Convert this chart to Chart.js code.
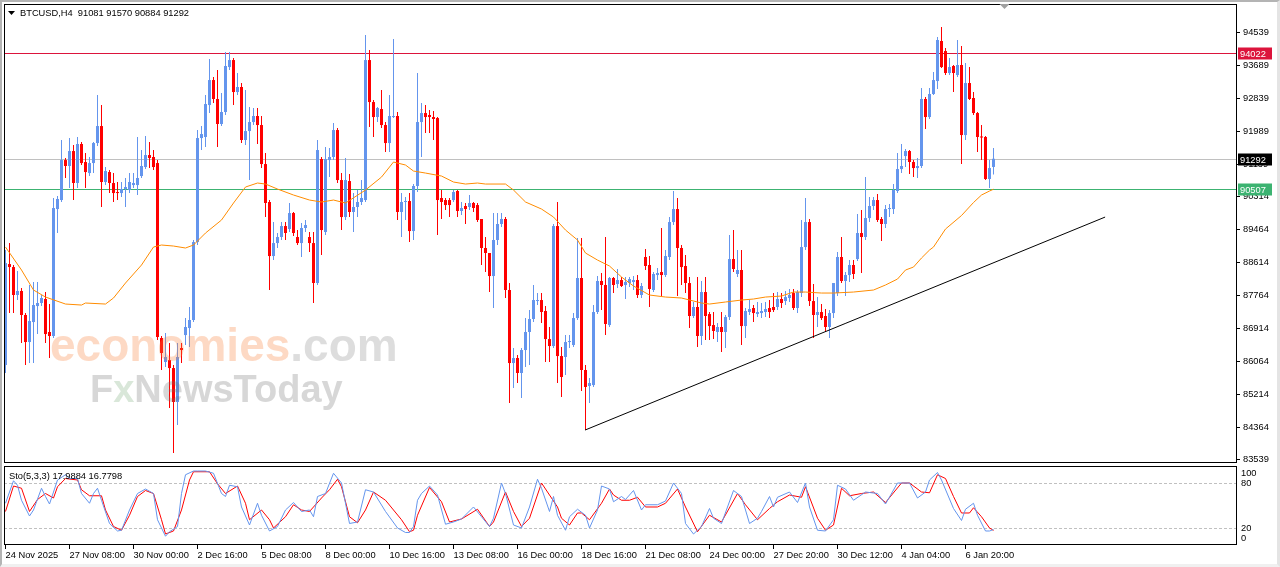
<!DOCTYPE html>
<html>
<head>
<meta charset="utf-8">
<title>BTCUSD H4</title>
<script src="https://cdn.jsdelivr.net/npm/chart.js@4.4.1/dist/chart.umd.min.js"></script>
<style>
  html, body { margin: 0; padding: 0; background: #fff; }
  #wrap { position: relative; width: 1280px; height: 567px; overflow: hidden; background: #fff; }
  #priceChart { position: absolute; left: 0; top: 0; }
  #stoChart { position: absolute; left: 0; top: 464px; }
  #frame { position: absolute; left: 0; top: 0; width: 1280px; height: 567px; box-sizing: border-box;
           border-top: 2px solid #b4b4b4; border-left: 2px solid #b4b4b4;
           border-right: 3px solid #e4e4e4; border-bottom: 3px solid #f0f0f0; pointer-events: none; }
</style>
</head>
<body>
<div id="wrap">
  <canvas id="priceChart" width="1280" height="464"></canvas>
  <canvas id="stoChart" width="1280" height="103"></canvas>
  <div id="frame"></div>
</div>
<script>
// BTCUSD H4 with moving average, trend line and Sto(5,3,3)
const symbolTitle = 'BTCUSD,H4';
const lastBar = [91081, 91570, 90884, 91292];   // O H L C of the last candle
const tickLabels = ['24 Nov 2025', '27 Nov 08:00', '30 Nov 00:00', '2 Dec 16:00', '5 Dec 08:00',
  '8 Dec 00:00', '10 Dec 16:00', '13 Dec 08:00', '16 Dec 00:00', '18 Dec 16:00', '21 Dec 08:00',
  '24 Dec 00:00', '27 Dec 20:00', '30 Dec 12:00', '4 Jan 04:00', '6 Jan 20:00'];
const barsPerLabel = 16;
const priceTicks = [94539, 93689, 92839, 91989, 91139, 90314, 89464, 88614, 87764, 86914, 86064, 85214, 84364, 83539];
const levelValues = [94022, 91292, 90507];   // resistance, last price, MA value
const stoTicks = [100, 80, 20, 0];
const stoLevels = [80, 20];
const stoTitle = 'Sto(5,3,3)';
const stoLast = [17.9884, 16.7798];

// [open, high, low, close]
const candles = [
  [85979, 88941, 85773, 88606], [88580, 89121, 87318, 88503], [88503, 88555, 87318, 87782], [87782, 88400, 87653, 87885],
  [87885, 87962, 86545, 87267], [87267, 87318, 85979, 86571], [86571, 88040, 86030, 87112], [87086, 88117, 86030, 87524],
  [87498, 88117, 86777, 87576], [87576, 87782, 87498, 87705], [87679, 87859, 86545, 86777], [86829, 87550, 86159, 86726],
  [86726, 90281, 86674, 90023], [89997, 90332, 89379, 90255], [90229, 91775, 90178, 91259], [91259, 91311, 90796, 91105],
  [91105, 91826, 90538, 91491], [91491, 91646, 90229, 90667], [90667, 91852, 90538, 91672], [91672, 91723, 91131, 91182],
  [91208, 91440, 90538, 90950], [90924, 91337, 90847, 91182], [91182, 91723, 90924, 91697], [91697, 92934, 91620, 92135],
  [92135, 92676, 90049, 90693], [90693, 91079, 90615, 90976], [90950, 91002, 90409, 90667], [90667, 90924, 90178, 90409],
  [90435, 90693, 90229, 90409], [90409, 90693, 90306, 90512], [90512, 90796, 90049, 90564], [90487, 90924, 90409, 90693],
  [90615, 90924, 90538, 90667], [90615, 91852, 90358, 90796], [90847, 91517, 90796, 91105], [91079, 91878, 91027, 91388],
  [91388, 91723, 91053, 91311], [91337, 91517, 91002, 91079], [91182, 91259, 86623, 86700], [86674, 86726, 85850, 86288],
  [86056, 86803, 85927, 86185], [86107, 86545, 84871, 85901], [85901, 85979, 83712, 85026], [85026, 86545, 84433, 86185],
  [86417, 86545, 86030, 86365], [86751, 87189, 86494, 86958], [86932, 87473, 86442, 87138], [87138, 89199, 87086, 89147],
  [89147, 92032, 89070, 91826], [91826, 92135, 91517, 91929], [91852, 92934, 91594, 92702], [92676, 93861, 92470, 93320],
  [93320, 93398, 92728, 92831], [92831, 93578, 91594, 92187], [92187, 92985, 92135, 92496], [92496, 94041, 92419, 93681],
  [93655, 94041, 93578, 93835], [93835, 93887, 92676, 93011], [93011, 93501, 92934, 93140], [93140, 93243, 91697, 91775],
  [91775, 93063, 91646, 92006], [92006, 92625, 90744, 92238], [92238, 92599, 92161, 92393], [92393, 92599, 91672, 92161],
  [92161, 92393, 91053, 91156], [91156, 91440, 89791, 90152], [90178, 90229, 87911, 88786], [88786, 89662, 88683, 89121],
  [89121, 89379, 88993, 89276], [89276, 89662, 89199, 89559], [89559, 89662, 89199, 89379], [89482, 90152, 89405, 89894],
  [89894, 89920, 89302, 89379], [89276, 89456, 89070, 89121], [89121, 89637, 88761, 89508], [89508, 89714, 89405, 89585],
  [89276, 89405, 88889, 89121], [89121, 89405, 87576, 88091], [88091, 91775, 88040, 91517], [91285, 91337, 88812, 89456],
  [89405, 91594, 89327, 91285], [91259, 91569, 90821, 91337], [91337, 92213, 91259, 92032], [92032, 92084, 90667, 90744],
  [90744, 90924, 89456, 89791], [89791, 91311, 89714, 90744], [90718, 90899, 89791, 89920], [89920, 90409, 89405, 90049],
  [90049, 90487, 89791, 90178], [90178, 90744, 90100, 90281], [90229, 94479, 90178, 93835], [93835, 94093, 92109, 92753],
  [92753, 92805, 91852, 92367], [92367, 92625, 92238, 92599], [92573, 93063, 92084, 92161], [92161, 92238, 91465, 91697],
  [91697, 92934, 91465, 92393], [92367, 94376, 92341, 92393], [92393, 92496, 89714, 89920], [89920, 90409, 89276, 90178],
  [90178, 90306, 89714, 90203], [90203, 90409, 89147, 89430], [89430, 90641, 89199, 90590], [90590, 93501, 90435, 92238],
  [92238, 92728, 91337, 92470], [92470, 92676, 91955, 92367], [92419, 92545, 91955, 92367], [92367, 92522, 91775, 92316],
  [92341, 92367, 89327, 90229], [90281, 90487, 89740, 90178], [90229, 90281, 89971, 90100], [90229, 90281, 89791, 90100],
  [90229, 90487, 90178, 90435], [90461, 90487, 89791, 89946], [89946, 90178, 89843, 90023], [90075, 90152, 89611, 89997],
  [90049, 90358, 89971, 90152], [90152, 90178, 89920, 90023], [90100, 90152, 89662, 89714], [89740, 89740, 88555, 88993],
  [88993, 89276, 88374, 88864], [88864, 88864, 87859, 88271], [88271, 89894, 87447, 89199], [89199, 89894, 89070, 89611],
  [89611, 89894, 89534, 89740], [89740, 89791, 87705, 87911], [87911, 88091, 85000, 86030], [86030, 86417, 85386, 86159],
  [86159, 86236, 85515, 85773], [85773, 86417, 85129, 86365], [86365, 87189, 85927, 86829], [86829, 87395, 85979, 87164],
  [87164, 88040, 87086, 87653], [87627, 87833, 87524, 87653], [87653, 87833, 87061, 87344], [87370, 87498, 86056, 86648],
  [86648, 86958, 86056, 86468], [86468, 89611, 86417, 89559], [89559, 90178, 85515, 86210], [86210, 86442, 85154, 85670],
  [86185, 86751, 85721, 86571], [86571, 86751, 86417, 86597], [86494, 87318, 86442, 87189], [87189, 89250, 87138, 88220],
  [88220, 89250, 85309, 85850], [85850, 85979, 84304, 85412], [85438, 85644, 85000, 85515], [85463, 87524, 85412, 87344],
  [87344, 88271, 87292, 88143], [88143, 88349, 87395, 88040], [88040, 89276, 86751, 87035], [87009, 88246, 86958, 88220],
  [88220, 88246, 87833, 88040], [88065, 88452, 87962, 88168], [88168, 88246, 87988, 88014], [88040, 88246, 87679, 88117],
  [88091, 88246, 87988, 88194], [88117, 88271, 87911, 88168], [88168, 88297, 87705, 87782], [87782, 88091, 87705, 88014],
  [88761, 88967, 88426, 88529], [88555, 88786, 87473, 87937], [87911, 88374, 87859, 88323], [88297, 88477, 88168, 88349],
  [88374, 89508, 87756, 88297], [88297, 88941, 88246, 88786], [88761, 89791, 88683, 89662], [89662, 90461, 89585, 89997],
  [89997, 90281, 87756, 88993], [88993, 89070, 88040, 88503], [88529, 88812, 87833, 88091], [88091, 88246, 86932, 87241],
  [87241, 87602, 87189, 87473], [87473, 88246, 86442, 86726], [86726, 88143, 86494, 87859], [87859, 88246, 86623, 87241],
  [87292, 87344, 86623, 86983], [87009, 87344, 86648, 86855], [86829, 87061, 86571, 86958], [86958, 87344, 86313, 86829],
  [86829, 87267, 86417, 87215], [87215, 89327, 87138, 88709], [88709, 89456, 88374, 88452], [88323, 88941, 88246, 88426],
  [88426, 88941, 86494, 86983], [86983, 87447, 86674, 87370], [87344, 87653, 87267, 87421], [87447, 87524, 87086, 87318],
  [87292, 87602, 87215, 87344], [87318, 87576, 87189, 87370], [87344, 87602, 87215, 87421], [87447, 87653, 87189, 87344],
  [87473, 87833, 87344, 87395], [87473, 87859, 87395, 87679], [87679, 87833, 87447, 87576], [87627, 87885, 87524, 87730],
  [87705, 87937, 87602, 87782], [87833, 87937, 87395, 87447], [87447, 87911, 87318, 87859], [87833, 89714, 87730, 89018],
  [89018, 90281, 88941, 89662], [89662, 89740, 87498, 87627], [87627, 88065, 86674, 87267], [87267, 87730, 86958, 87344],
  [87344, 87550, 87138, 87189], [87241, 87421, 86829, 86958], [86958, 87395, 86674, 87318], [87318, 88091, 87189, 88091],
  [87833, 88889, 87756, 88761], [88761, 89276, 88091, 88143], [88143, 88374, 87756, 88297], [88297, 88683, 88117, 88555],
  [88555, 88683, 88194, 88323], [88709, 89868, 88658, 89379], [89379, 89971, 88349, 89276], [89276, 90821, 89199, 89765],
  [89765, 90306, 89662, 90075], [90075, 90306, 89971, 90229], [90229, 90384, 89662, 89714], [89740, 89791, 89173, 89611],
  [89611, 90100, 89508, 89997], [89997, 90126, 89791, 90023], [89997, 90641, 89868, 90487], [90461, 91440, 90409, 91027],
  [91027, 91672, 90924, 91105], [91362, 91543, 91079, 91491], [91491, 91517, 90899, 91208], [91208, 91259, 90821, 91053],
  [91053, 91311, 90796, 91105], [91105, 93114, 91053, 92831], [92831, 92882, 92058, 92367], [92367, 93114, 92316, 92960],
  [92960, 93526, 92934, 93320], [93294, 94428, 93088, 94351], [94325, 94686, 93629, 93655], [94067, 94145, 93449, 93501],
  [93501, 93887, 93449, 93655], [93681, 93707, 93011, 93501], [93449, 94351, 93398, 93707], [93707, 94196, 91156, 91903],
  [91903, 93758, 91775, 93243], [93243, 93655, 92805, 92831], [92857, 93011, 92419, 92470], [92470, 92496, 91465, 91852],
  [91852, 92161, 91259, 91840], [91852, 91878, 90744, 90770], [90770, 91259, 90538, 91053], [91081, 91570, 90884, 91292]
];

// moving average, [bar, value]
const maPoints = [
  [0, 89018], [4, 88426], [7, 87911], [10, 87730], [15, 87550], [19, 87524], [20, 87576], [25, 87550], [27, 87705],
  [30, 88091], [34, 88555], [37, 89018], [39, 89070], [42, 89044], [45, 88993], [47, 89070], [50, 89379], [54, 89714],
  [57, 90152], [60, 90564], [63, 90667], [65, 90641], [68, 90512], [72, 90358], [76, 90229], [79, 90178], [82, 90229],
  [85, 90152], [90, 90487], [94, 90821], [97, 91208], [100, 91131], [102, 90976], [105, 90924], [109, 90847], [112, 90693],
  [115, 90641], [118, 90667], [120, 90641], [125, 90641], [127, 90487], [130, 90178], [134, 89997], [137, 89791],
  [140, 89456], [143, 89199], [145, 88864], [148, 88683], [151, 88529], [154, 88246], [157, 88014], [161, 87782],
  [165, 87730], [169, 87705], [174, 87576], [176, 87550], [180, 87602], [184, 87653], [187, 87679], [190, 87730],
  [194, 87756], [197, 87859], [200, 87859], [204, 87833], [207, 87833], [212, 87859], [217, 87911], [220, 88040],
  [223, 88194], [225, 88426], [227, 88503], [229, 88735], [231, 88941], [232, 89018], [235, 89482], [239, 89830],
  [242, 90165], [244, 90358], [246, 90461], [247, 90507]
];

// support trend line, [bar, value]
const trendLine = [[144.9, 84304], [274.9, 89790]];

// stochastic %K and %D, [bar, value]
const stoK = [
  [0, 53], [2, 83], [3, 77], [4, 57], [6, 36], [7, 44], [9, 73], [10, 62], [11, 52], [12, 68], [13, 84], [15, 91],
  [16, 86], [18, 86], [19, 66], [21, 53], [22, 66], [23, 73], [24, 57], [26, 26], [28, 16], [29, 17], [31, 44], [33, 66],
  [35, 72], [37, 66], [38, 31], [40, 9], [41, 15], [43, 22], [44, 66], [45, 91], [47, 96], [48, 96], [50, 96], [52, 93],
  [54, 66], [55, 62], [56, 77], [58, 75], [59, 48], [61, 24], [63, 53], [64, 37], [66, 16], [68, 22], [70, 44], [72, 54],
  [74, 42], [76, 44], [77, 35], [78, 62], [80, 66], [82, 93], [84, 80], [86, 26], [88, 28], [90, 71], [92, 68], [95, 42],
  [98, 20], [100, 14], [101, 14], [102, 22], [103, 57], [104, 66], [106, 76], [108, 64], [110, 25], [112, 28], [114, 32],
  [117, 48], [119, 35], [121, 22], [122, 33], [124, 80], [125, 66], [127, 24], [129, 20], [131, 48], [133, 85], [134, 73],
  [136, 42], [137, 62], [138, 37], [140, 17], [141, 35], [143, 45], [145, 37], [146, 20], [148, 44], [149, 76], [151, 72],
  [152, 55], [154, 62], [155, 58], [157, 70], [159, 44], [160, 51], [163, 51], [165, 56], [167, 80], [169, 66], [170, 26],
  [172, 12], [174, 22], [176, 46], [177, 33], [179, 26], [182, 70], [184, 62], [186, 26], [188, 33], [189, 42], [191, 62],
  [192, 48], [193, 61], [196, 68], [198, 54], [200, 80], [201, 48], [203, 17], [205, 16], [207, 31], [208, 77], [210, 72],
  [212, 57], [215, 68], [218, 66], [220, 52], [223, 80], [226, 80], [228, 60], [230, 68], [231, 84], [233, 94], [234, 84],
  [237, 46], [239, 30], [240, 45], [242, 53], [243, 37], [245, 16], [246, 16], [247, 17.9884]
];
const stoD = [
  [0, 42], [2, 76], [4, 73], [6, 42], [8, 58], [10, 66], [12, 60], [13, 75], [15, 86], [18, 84], [19, 71], [21, 63],
  [24, 63], [25, 44], [27, 22], [29, 17], [31, 37], [33, 62], [35, 70], [37, 66], [39, 31], [40, 12], [42, 16], [44, 44],
  [46, 84], [47, 95], [51, 95], [53, 79], [55, 66], [58, 76], [60, 53], [61, 31], [64, 44], [66, 31], [67, 20], [70, 35],
  [72, 51], [74, 44], [76, 42], [79, 60], [81, 71], [83, 85], [84, 75], [86, 35], [88, 27], [90, 44], [92, 68], [95, 57],
  [99, 31], [101, 15], [102, 17], [103, 37], [106, 74], [109, 55], [111, 28], [114, 32], [118, 45], [121, 22], [122, 28],
  [125, 68], [127, 42], [129, 22], [131, 33], [134, 80], [136, 64], [138, 48], [139, 33], [141, 24], [143, 40], [144, 40],
  [146, 31], [149, 53], [151, 72], [152, 64], [154, 57], [156, 57], [158, 61], [160, 48], [163, 48], [165, 53], [168, 72],
  [170, 48], [173, 15], [176, 37], [179, 28], [183, 66], [185, 51], [188, 31], [191, 46], [193, 55], [196, 64], [199, 61],
  [200, 75], [203, 33], [205, 17], [207, 24], [209, 73], [211, 63], [214, 66], [217, 68], [220, 54], [224, 80], [226, 80],
  [229, 68], [231, 67], [233, 91], [235, 86], [237, 62], [239, 40], [241, 40], [242, 47], [244, 35], [246, 20], [247, 16.7798]
];

const UP = '#6495ED', DOWN = '#FF0000';
const FONT = '"Liberation Sans", Arial, sans-serif';
const FS = 9.3;
const levelColors = ['#DC143C', '#C0C0C0', '#3CB371'];
const levelBoxes = ['#DC143C', '#000000', '#3CB371'];

// window holds 308 bar slots, 4 px each (the last ~60 are the chart shift)
const xMin = -0.375, xMax = xMin + 308;

const isUp = c => c[3] >= c[0];
const barColors = candles.map(c => isUp(c) ? UP : DOWN);
const toXY = arr => arr.map(p => ({ x: p[0], y: p[1] }));

const priceDecor = {
  id: 'priceDecor',
  beforeDatasetsDraw(chart) {
    const { ctx, chartArea: a, scales: { y } } = chart;
    ctx.save();
    ctx.lineWidth = 1;
    levelValues.forEach((v, k) => {
      const py = Math.round(y.getPixelForValue(v)) + 0.5;
      ctx.strokeStyle = levelColors[k];
      ctx.beginPath(); ctx.moveTo(a.left, py); ctx.lineTo(a.right, py); ctx.stroke();
    });
    ctx.restore();
  },
  afterDatasetsDraw(chart) {
    // economies.com / FxNewsToday watermark
    const { ctx } = chart;
    ctx.save();
    ctx.textBaseline = 'alphabetic';
    ctx.textAlign = 'left';
    ctx.font = 'bold 46px ' + FONT;
    ctx.fillStyle = 'rgba(250,130,60,0.3)';
    ctx.fillText('economies', 50, 361);
    const w = ctx.measureText('economies').width;
    ctx.fillStyle = 'rgba(120,120,120,0.25)';
    ctx.fillText('.com', 50 + w, 361);
    ctx.font = 'bold 38px ' + FONT;
    ctx.fillStyle = 'rgba(110,110,110,0.28)';
    ctx.fillText('F', 90, 402);
    const fw = ctx.measureText('F').width;
    ctx.fillStyle = 'rgba(120,170,120,0.28)';
    ctx.fillText('x', 90 + fw, 402);
    const xw = ctx.measureText('x').width;
    ctx.fillStyle = 'rgba(110,110,110,0.28)';
    ctx.fillText('NewsToday', 90 + fw + xw, 402);
    ctx.restore();
  },
  afterDraw(chart) {
    const { ctx, chartArea: a, scales: { x, y } } = chart;
    ctx.save();
    // panel frame
    ctx.strokeStyle = '#000';
    ctx.lineWidth = 1;
    ctx.strokeRect(a.left + 0.5, a.top - 0.5, a.right - a.left, a.bottom - a.top);
    // price labels of the horizontal lines
    ctx.font = FS + 'px ' + FONT;
    ctx.textBaseline = 'middle';
    ctx.textAlign = 'left';
    levelValues.forEach((v, k) => {
      const py = Math.round(y.getPixelForValue(v)) + 0.5;
      ctx.fillStyle = levelBoxes[k];
      ctx.fillRect(a.right + 2, py - 6, 34, 12);
      ctx.fillStyle = '#fff';
      ctx.fillText(String(v), a.right + 4, py + 0.5);
    });
    // header
    ctx.fillStyle = '#000';
    ctx.beginPath();
    ctx.moveTo(a.left + 4, 11); ctx.lineTo(a.left + 11, 11); ctx.lineTo(a.left + 7.5, 15); ctx.closePath();
    ctx.fill();
    ctx.textBaseline = 'alphabetic';
    ctx.fillText(symbolTitle + '  ' + lastBar.join(' '), a.left + 16, 16);
    // chart shift marker
    const sx = Math.round(x.getPixelForValue(candles.length + 1.5)) + 0.5;
    ctx.fillStyle = '#a0a0a0';
    ctx.beginPath();
    ctx.moveTo(sx - 5, a.top - 1); ctx.lineTo(sx + 5, a.top - 1); ctx.lineTo(sx, a.top + 4); ctx.closePath();
    ctx.fill();
    ctx.restore();
  }
};

new Chart(document.getElementById('priceChart'), {
  type: 'bar',
  data: {
    datasets: [
      {
        label: 'wicks',
        data: candles.map((c, i) => ({ x: i, y: [c[2], c[1]] })),
        backgroundColor: barColors,
        barThickness: 1,
        grouped: false,
        inflateAmount: 0,
        borderWidth: 0,
        order: 3
      },
      {
        label: 'bodies',
        data: candles.map((c, i) => ({ x: i, y: [c[0], c[3]] })),
        backgroundColor: barColors,
        barThickness: 3,
        minBarLength: 1,
        grouped: false,
        inflateAmount: 0,
        borderWidth: 0,
        order: 2
      },
      {
        type: 'line',
        label: 'MA',
        data: toXY(maPoints),
        borderColor: '#FF8C00',
        borderWidth: 1,
        pointRadius: 0,
        tension: 0,
        order: 1
      },
      {
        type: 'line',
        label: 'trend',
        data: toXY(trendLine),
        borderColor: '#000',
        borderWidth: 1,
        pointRadius: 0,
        order: 0
      }
    ]
  },
  options: {
    responsive: false,
    animation: false,
    events: [],
    layout: { padding: { left: 4, top: 5, right: 0, bottom: 1 } },
    plugins: { legend: { display: false }, tooltip: { enabled: false } },
    scales: {
      x: { type: 'linear', min: xMin, max: xMax, offset: false, display: false },
      y: {
        position: 'right',
        min: 83455,
        max: 95253,
        beginAtZero: false,
        afterBuildTicks: s => { s.ticks = priceTicks.map(v => ({ value: v })); },
        afterFit: s => { s.width = 44; s.paddingTop = 0; s.paddingBottom = 0; },
        ticks: {
          callback: v => String(v),
          color: '#000',
          font: { family: FONT, size: FS },
          padding: 3,
          autoSkip: false
        },
        grid: { drawOnChartArea: false, drawTicks: true, tickLength: 4, color: '#000' },
        border: { display: false }
      }
    }
  },
  plugins: [priceDecor]
});

const stoDecor = {
  id: 'stoDecor',
  beforeDatasetsDraw(chart) {
    const { ctx, chartArea: a, scales: { y } } = chart;
    ctx.save();
    ctx.strokeStyle = '#C0C0C0';
    ctx.lineWidth = 1;
    ctx.setLineDash([3, 2]);
    stoLevels.forEach(v => {
      const py = Math.round(y.getPixelForValue(v)) + 0.5;
      ctx.beginPath(); ctx.moveTo(a.left, py); ctx.lineTo(a.right, py); ctx.stroke();
    });
    ctx.restore();
  },
  afterDraw(chart) {
    const { ctx, chartArea: a, scales: { y } } = chart;
    ctx.save();
    ctx.strokeStyle = '#000';
    ctx.lineWidth = 1;
    ctx.strokeRect(a.left + 0.5, a.top + 0.5, a.right - a.left, a.bottom - a.top - 1);
    ctx.fillStyle = '#000';
    ctx.font = FS + 'px ' + FONT;
    ctx.textAlign = 'left';
    ctx.textBaseline = 'middle';
    stoTicks.forEach(v => {
      let py = y.getPixelForValue(v);
      py = Math.min(Math.max(py, a.top + 7), a.bottom - 7);
      ctx.fillText(String(v), a.right + 5, py);
    });
    ctx.textBaseline = 'alphabetic';
    ctx.fillText(stoTitle + ' ' + stoLast.map(v => v.toFixed(4)).join(' '), a.left + 5, a.top + 13);
    ctx.restore();
  }
};

new Chart(document.getElementById('stoChart'), {
  type: 'line',
  data: {
    datasets: [
      { label: '%K', data: toXY(stoK), borderColor: UP, borderWidth: 1, pointRadius: 0, tension: 0 },
      { label: '%D', data: toXY(stoD), borderColor: DOWN, borderWidth: 1, pointRadius: 0, tension: 0 }
    ]
  },
  options: {
    responsive: false,
    animation: false,
    events: [],
    layout: { padding: { left: 4, top: 2, right: 0, bottom: 0 } },
    plugins: { legend: { display: false }, tooltip: { enabled: false } },
    scales: {
      x: {
        type: 'linear',
        min: xMin,
        max: xMax,
        offset: false,
        afterBuildTicks: s => { s.ticks = tickLabels.map((t, k) => ({ value: k * barsPerLabel })); },
        afterFit: s => { s.height = 22; },
        ticks: {
          callback: v => tickLabels[Math.round(v / barsPerLabel)],
          align: 'start',
          maxRotation: 0,
          autoSkip: false,
          color: '#000',
          font: { family: FONT, size: FS },
          padding: 1
        },
        grid: { drawOnChartArea: false, drawTicks: true, tickLength: 4, color: '#000' },
        border: { display: false }
      },
      y: {
        position: 'right',
        min: -2.667,
        max: 102.667,
        ticks: { display: false },
        grid: { display: false },
        border: { display: false },
        afterFit: s => { s.width = 44; }
      }
    }
  },
  plugins: [stoDecor]
});
</script>
</body>
</html>
